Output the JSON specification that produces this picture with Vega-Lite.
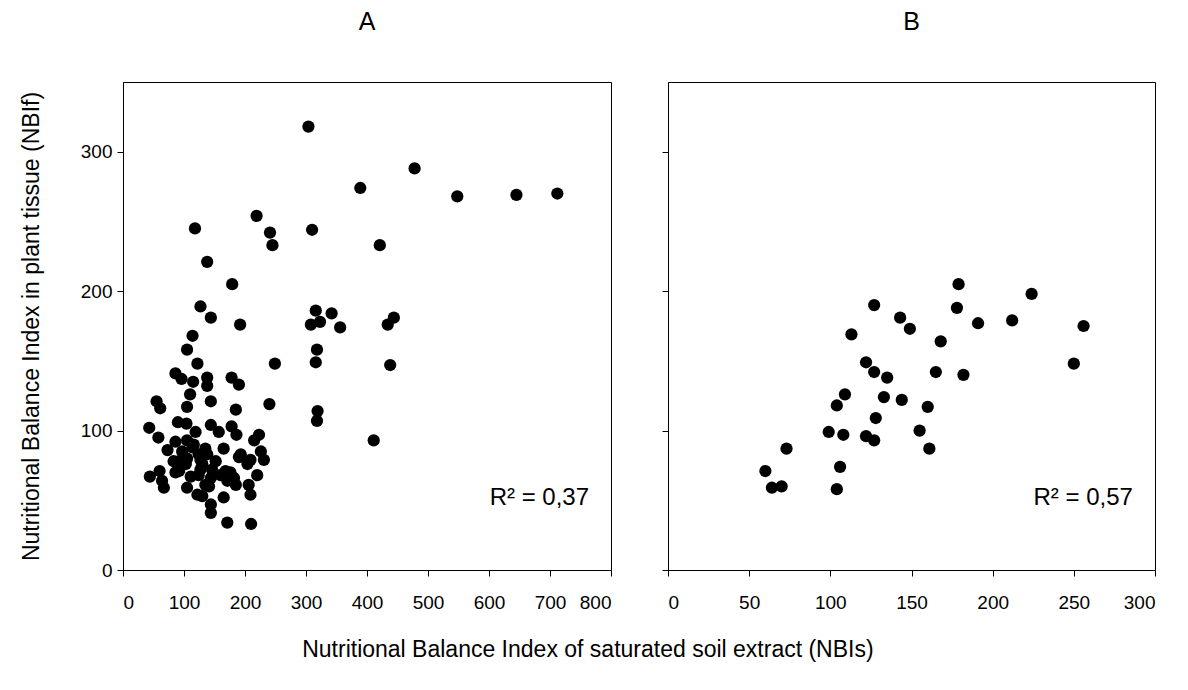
{
  "$schema": "https://vega.github.io/schema/vega-lite/v6.json",
  "padding": {"left": 19, "top": 9, "right": 5, "bottom": 5},
  "background": "white",
  "config": {
    "view": {"stroke": "black", "strokeWidth": 1},
    "axis": {"grid": false, "domainColor": "black", "tickColor": "black", "labelColor": "black", "titleColor": "black", "labelFont": "Liberation Sans", "titleFont": "Liberation Sans", "labelFontSize": 19, "titleFontSize": 23, "titleFontWeight": "normal", "tickSize": 6, "labelPadding": 5},
    "axisX": {"labelPadding": 17},
    "title": {"font": "Liberation Sans", "fontSize": 25, "fontWeight": "normal", "color": "black"},
    "text": {"font": "Liberation Sans", "color": "black"}
  },
  "title": {"text": "Nutritional Balance Index of saturated soil extract (NBIs)", "orient": "bottom", "anchor": "middle", "fontSize": 23, "offset": 26},
  "spacing": 57,
  "bounds": "flush",
  "hconcat": [
    {
      "title": {"text": "A", "anchor": "middle", "frame": "group", "baseline": "alphabetic", "offset": 27},
      "width": 488,
      "height": 488,
      "layer": [
        {
          "data": {"values": [
            {"nbis": 304, "nbif": 318}, {"nbis": 478, "nbif": 288}, {"nbis": 389, "nbif": 274}, {"nbis": 548, "nbif": 268},
            {"nbis": 645, "nbif": 269}, {"nbis": 712, "nbif": 270}, {"nbis": 219, "nbif": 254}, {"nbis": 118, "nbif": 245},
            {"nbis": 310, "nbif": 244}, {"nbis": 241, "nbif": 242}, {"nbis": 245, "nbif": 233}, {"nbis": 421, "nbif": 233},
            {"nbis": 138, "nbif": 221}, {"nbis": 179, "nbif": 205}, {"nbis": 127, "nbif": 189}, {"nbis": 316, "nbif": 186},
            {"nbis": 342, "nbif": 184}, {"nbis": 144, "nbif": 181}, {"nbis": 444, "nbif": 181}, {"nbis": 192, "nbif": 176},
            {"nbis": 308, "nbif": 176}, {"nbis": 323, "nbif": 178}, {"nbis": 356, "nbif": 174}, {"nbis": 434, "nbif": 176},
            {"nbis": 114, "nbif": 168}, {"nbis": 105, "nbif": 158}, {"nbis": 318, "nbif": 158}, {"nbis": 316, "nbif": 149},
            {"nbis": 122, "nbif": 148}, {"nbis": 249, "nbif": 148}, {"nbis": 438, "nbif": 147}, {"nbis": 86, "nbif": 141},
            {"nbis": 138, "nbif": 138}, {"nbis": 178, "nbif": 138}, {"nbis": 96, "nbif": 137}, {"nbis": 115, "nbif": 135},
            {"nbis": 190, "nbif": 133}, {"nbis": 138, "nbif": 132}, {"nbis": 110, "nbif": 126}, {"nbis": 55, "nbif": 121},
            {"nbis": 144, "nbif": 121}, {"nbis": 240, "nbif": 119}, {"nbis": 105, "nbif": 117}, {"nbis": 61, "nbif": 116},
            {"nbis": 185, "nbif": 115}, {"nbis": 319, "nbif": 114}, {"nbis": 318, "nbif": 107}, {"nbis": 411, "nbif": 93},
            {"nbis": 43, "nbif": 102}, {"nbis": 58, "nbif": 95}, {"nbis": 90, "nbif": 106}, {"nbis": 104, "nbif": 105},
            {"nbis": 119, "nbif": 99}, {"nbis": 144, "nbif": 104}, {"nbis": 157, "nbif": 99}, {"nbis": 178, "nbif": 103},
            {"nbis": 186, "nbif": 97}, {"nbis": 223, "nbif": 97}, {"nbis": 215, "nbif": 93}, {"nbis": 73, "nbif": 86},
            {"nbis": 86, "nbif": 92}, {"nbis": 105, "nbif": 93}, {"nbis": 114, "nbif": 88}, {"nbis": 97, "nbif": 85},
            {"nbis": 135, "nbif": 87}, {"nbis": 165, "nbif": 87}, {"nbis": 193, "nbif": 83}, {"nbis": 226, "nbif": 85},
            {"nbis": 231, "nbif": 79}, {"nbis": 209, "nbif": 79}, {"nbis": 138, "nbif": 83}, {"nbis": 124, "nbif": 83},
            {"nbis": 127, "nbif": 79}, {"nbis": 152, "nbif": 78}, {"nbis": 92, "nbif": 78}, {"nbis": 83, "nbif": 78},
            {"nbis": 103, "nbif": 76}, {"nbis": 105, "nbif": 80}, {"nbis": 130, "nbif": 76}, {"nbis": 190, "nbif": 81},
            {"nbis": 204, "nbif": 76}, {"nbis": 44, "nbif": 67}, {"nbis": 60, "nbif": 71}, {"nbis": 67, "nbif": 59},
            {"nbis": 64, "nbif": 64}, {"nbis": 86, "nbif": 70}, {"nbis": 92, "nbif": 71}, {"nbis": 105, "nbif": 59},
            {"nbis": 111, "nbif": 67}, {"nbis": 127, "nbif": 72}, {"nbis": 124, "nbif": 68}, {"nbis": 130, "nbif": 53},
            {"nbis": 141, "nbif": 60}, {"nbis": 144, "nbif": 66}, {"nbis": 146, "nbif": 72}, {"nbis": 144, "nbif": 47},
            {"nbis": 144, "nbif": 41}, {"nbis": 165, "nbif": 52}, {"nbis": 171, "nbif": 64}, {"nbis": 185, "nbif": 61},
            {"nbis": 176, "nbif": 70}, {"nbis": 168, "nbif": 71}, {"nbis": 160, "nbif": 68}, {"nbis": 182, "nbif": 66},
            {"nbis": 206, "nbif": 61}, {"nbis": 209, "nbif": 54}, {"nbis": 220, "nbif": 68}, {"nbis": 171, "nbif": 34},
            {"nbis": 210, "nbif": 33}, {"nbis": 122, "nbif": 54}, {"nbis": 135, "nbif": 61}, {"nbis": 116, "nbif": 90}
          ]},
          "mark": {"type": "circle", "size": 150, "color": "black", "opacity": 1},
          "encoding": {
            "x": {"field": "nbis", "type": "quantitative", "scale": {"domain": [0, 800], "nice": false}, "axis": {"values": [0, 100, 200, 300, 400, 500, 600, 700, 800], "title": null}},
            "y": {"field": "nbif", "type": "quantitative", "scale": {"domain": [0, 350], "nice": false}, "axis": {"values": [0, 100, 200, 300], "title": "Nutritional Balance Index in plant tissue (NBIf)", "titlePadding": 37}}
          }
        },
        {
          "data": {"values": [{}]},
          "mark": {"type": "text", "align": "right", "baseline": "alphabetic", "fontSize": 24},
          "encoding": {
            "x": {"datum": 764, "type": "quantitative"},
            "y": {"datum": 46.6, "type": "quantitative"},
            "text": {"value": "R² = 0,37"}
          }
        }
      ]
    },
    {
      "title": {"text": "B", "anchor": "middle", "frame": "group", "baseline": "alphabetic", "offset": 27},
      "width": 487,
      "height": 488,
      "layer": [
        {
          "data": {"values": [
            {"nbis": 179, "nbif": 205}, {"nbis": 224, "nbif": 198}, {"nbis": 127, "nbif": 190}, {"nbis": 178, "nbif": 188},
            {"nbis": 143, "nbif": 181}, {"nbis": 149, "nbif": 173}, {"nbis": 191, "nbif": 177}, {"nbis": 212, "nbif": 179},
            {"nbis": 256, "nbif": 175}, {"nbis": 113, "nbif": 169}, {"nbis": 168, "nbif": 164}, {"nbis": 122, "nbif": 149},
            {"nbis": 127, "nbif": 142}, {"nbis": 135, "nbif": 138}, {"nbis": 165, "nbif": 142}, {"nbis": 182, "nbif": 140},
            {"nbis": 250, "nbif": 148}, {"nbis": 109, "nbif": 126}, {"nbis": 104, "nbif": 118}, {"nbis": 133, "nbif": 124},
            {"nbis": 144, "nbif": 122}, {"nbis": 160, "nbif": 117}, {"nbis": 128, "nbif": 109}, {"nbis": 99, "nbif": 99},
            {"nbis": 108, "nbif": 97}, {"nbis": 122, "nbif": 96}, {"nbis": 127, "nbif": 93}, {"nbis": 155, "nbif": 100},
            {"nbis": 161, "nbif": 87}, {"nbis": 73, "nbif": 87}, {"nbis": 106, "nbif": 74}, {"nbis": 60, "nbif": 71},
            {"nbis": 64, "nbif": 59}, {"nbis": 70, "nbif": 60}, {"nbis": 104, "nbif": 58}
          ]},
          "mark": {"type": "circle", "size": 150, "color": "black", "opacity": 1},
          "encoding": {
            "x": {"field": "nbis", "type": "quantitative", "scale": {"domain": [0, 300], "nice": false}, "axis": {"values": [0, 50, 100, 150, 200, 250, 300], "title": null}},
            "y": {"field": "nbif", "type": "quantitative", "scale": {"domain": [0, 350], "nice": false}, "axis": {"values": [0, 100, 200, 300], "labels": false, "title": null}}
          }
        },
        {
          "data": {"values": [{}]},
          "mark": {"type": "text", "align": "right", "baseline": "alphabetic", "fontSize": 24},
          "encoding": {
            "x": {"datum": 286.4, "type": "quantitative"},
            "y": {"datum": 46.6, "type": "quantitative"},
            "text": {"value": "R² = 0,57"}
          }
        }
      ]
    }
  ]
}
